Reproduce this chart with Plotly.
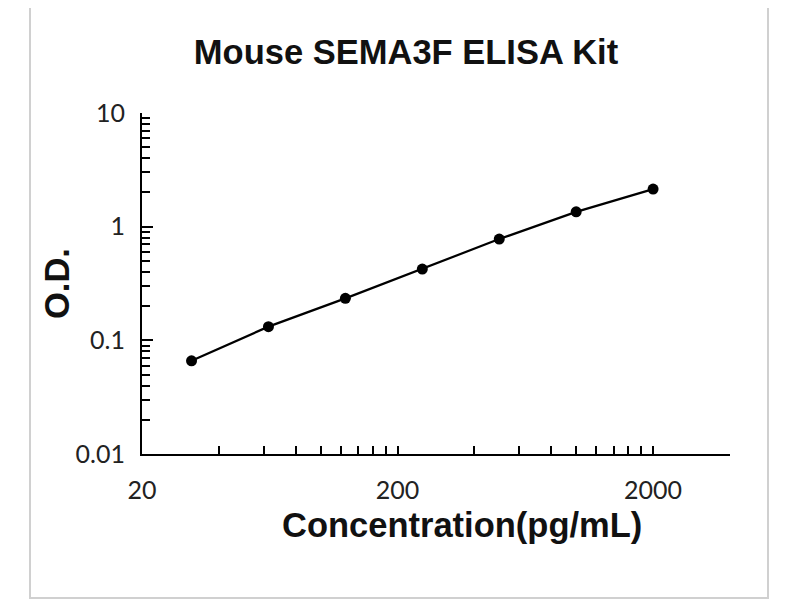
import plotly.graph_objs as go

# standard curve
concentration = [31.25, 62.5, 125, 250, 500, 1000, 2000]
od = [0.066, 0.132, 0.234, 0.424, 0.778, 1.35, 2.14]

x_tickvals = [20, 200, 2000]
x_ticktext = ['20', '200', '2000']
x_minorvals = [40, 60, 80, 100, 120, 140, 160, 180,
               400, 600, 800, 1000, 1200, 1400, 1600, 1800, 4000]
y_tickvals = [0.01, 0.1, 1, 10]
y_ticktext = ['0.01', '0.1', '1', '10']
y_minorvals = [m * d for d in (0.01, 0.1, 1) for m in range(2, 10)]

# page body has an 8px margin, so the figure is shifted back by it
OFF = 8
W, H = 800 - OFF, 600 - OFF
L, T = 142 - OFF, 113 - OFF
R, B = W - (730 - OFF), H - (454 - OFF)


def px(x):
    return (x - OFF - L) / (W - L - R)


def py(y):
    return (H - B - (y - OFF)) / (H - T - B)


fig = go.Figure(data=go.Scatter(
    x=concentration, y=od, mode='lines+markers',
    line=dict(color='black', width=2.2),
    marker=dict(color='black', size=11),
))

tick_font = dict(family='Lato, Carlito, sans-serif', size=25, color='#222')
bold_font = dict(family='Liberation Sans, Arial', size=34.5, color='#111')

fig.update_layout(
    width=W, height=H,
    template=None,
    plot_bgcolor='white', paper_bgcolor='white',
    margin=dict(l=L, r=R, t=T, b=B),
    showlegend=False,
    title=dict(text='<b>Mouse SEMA3F ELISA Kit</b>', font=bold_font,
               x=(406 - OFF) / W, y=1 - (52 - OFF) / H,
               xanchor='center', yanchor='middle'),
    xaxis=dict(type='log', range=[1.30103, 3.602],
               showgrid=False, zeroline=False,
               showline=True, linecolor='black', linewidth=2,
               ticks='inside', ticklen=8, tickwidth=2, tickcolor='black',
               tickvals=x_tickvals, ticktext=x_ticktext,
               tickfont=tick_font, ticklabelstandoff=13,
               minor=dict(tickvals=x_minorvals, ticks='inside', ticklen=8,
                          tickwidth=2, tickcolor='black')),
    yaxis=dict(type='log', range=[-2, 1],
               showgrid=False, zeroline=False,
               showline=True, linecolor='black', linewidth=2,
               ticks='inside', ticklen=11, tickwidth=2, tickcolor='black',
               tickvals=y_tickvals, ticktext=y_ticktext,
               tickfont=tick_font, ticklabelstandoff=10,
               minor=dict(tickvals=y_minorvals, ticks='inside', ticklen=8,
                          tickwidth=2, tickcolor='black')),
    annotations=[
        dict(text='<b>Concentration(pg/mL)</b>', xref='paper', yref='paper',
             x=px(462), y=py(525), xanchor='center', yanchor='middle',
             showarrow=False, font=bold_font),
        dict(text='<b>O.D.</b>', xref='paper', yref='paper',
             x=px(57), y=py(284), xanchor='center', yanchor='middle',
             textangle=-90, showarrow=False, font=bold_font),
    ],
    shapes=[
        dict(type='rect', xref='paper', yref='paper',
             x0=px(30), x1=px(768), y0=py(598), y1=py(1),
             line=dict(color='#d0d0d0', width=2), layer='below'),
    ],
)

fig.write_html('out.html')
